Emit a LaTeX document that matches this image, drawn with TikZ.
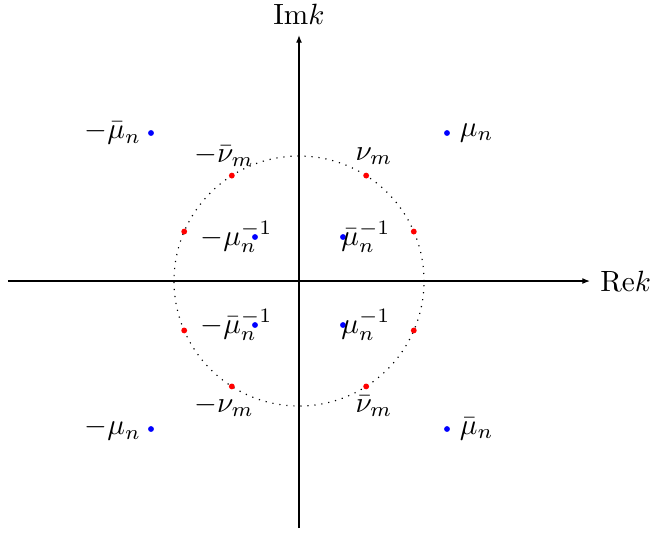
\documentclass[tikz,border=0pt]{standalone}
\usetikzlibrary{arrows.meta,positioning}

\begin{document}
\begin{tikzpicture}[x=1.5cm,y=1.5cm,
  ax/.style={-{Latex[length=2.6pt,width=2pt]},line width=0.4pt},
  bdot/.style={circle,fill=blue,inner sep=0pt,minimum size=2pt},
  rdot/.style={circle,fill=red,inner sep=0pt,minimum size=2pt},
  lab/.style={inner sep=1pt},
  olab/.style={inner sep=2pt}]
  \useasboundingbox (-2.392,-2.072) rectangle (2.808,2.248);
  \coordinate (xl) at (-2.328,0); \coordinate (xr) at (2.328,0);
  \coordinate (yb) at (0,-1.976); \coordinate (yt) at (0,1.968);
  \draw[ax] (xl) -- (xr);
  \draw[ax] (yb) -- (yt);
  \node[right=0pt of xr] (re) {$\mathrm{Re}k$};
  \node[above=0pt of yt] (im) {$\mathrm{Im}k$};
  \draw[dotted] (0,0) circle[radius=1];
  \node[bdot] (mu) at (1.184,1.184) {};
  \node[bdot] (mbm) at (-1.184,1.184) {};
  \node[bdot] (mum) at (-1.184,-1.184) {};
  \node[bdot] (mb) at (1.184,-1.184) {};
  \node[bdot] (imb) at (0.352,0.352) {};
  \node[bdot] (imum) at (-0.352,0.352) {};
  \node[bdot] (imbm) at (-0.352,-0.352) {};
  \node[bdot] (imu) at (0.352,-0.352) {};
  \node[olab,right=1pt of mu] (lmu) {$\mu_n$};
  \node[olab,left=0pt of mbm] (lmbm) {$-\bar\mu_n$};
  \node[olab,left=0pt of mum] (lmum) {$-\mu_n$};
  \node[olab,right=1pt of mb] (lmb) {$\bar\mu_n$};
  \node[lab] (limb) at (0.536,0.352) {$\bar\mu_n^{-1}$};
  \node[lab] (limum) at (-0.5,0.352) {$-\mu_n^{-1}$};
  \node[lab] (limbm) at (-0.5,-0.352) {$-\bar\mu_n^{-1}$};
  \node[lab] (limu) at (0.536,-0.352) {$\mu_n^{-1}$};
  \node[rdot] (nu) at (57.5:1) {};
  \node[rdot] (nua) at (23.3:1) {};
  \node[rdot] (nub) at (122.5:1) {};
  \node[rdot] (nuc) at (156.7:1) {};
  \node[rdot] (nud) at (-122.5:1) {};
  \node[rdot] (nue) at (-156.7:1) {};
  \node[rdot] (nuf) at (-57.5:1) {};
  \node[rdot] (nug) at (-23.3:1) {};
  \node[lab] (lnu) at (0.6,1) {$\nu_m$};
  \node[lab] (lnbm) at (-0.6,1) {$-\bar\nu_m$};
  \node[lab] (lnum) at (-0.6,-1) {$-\nu_m$};
  \node[lab] (lnb) at (0.6,-1) {$\bar\nu_m$};
\end{tikzpicture}
\end{document}
